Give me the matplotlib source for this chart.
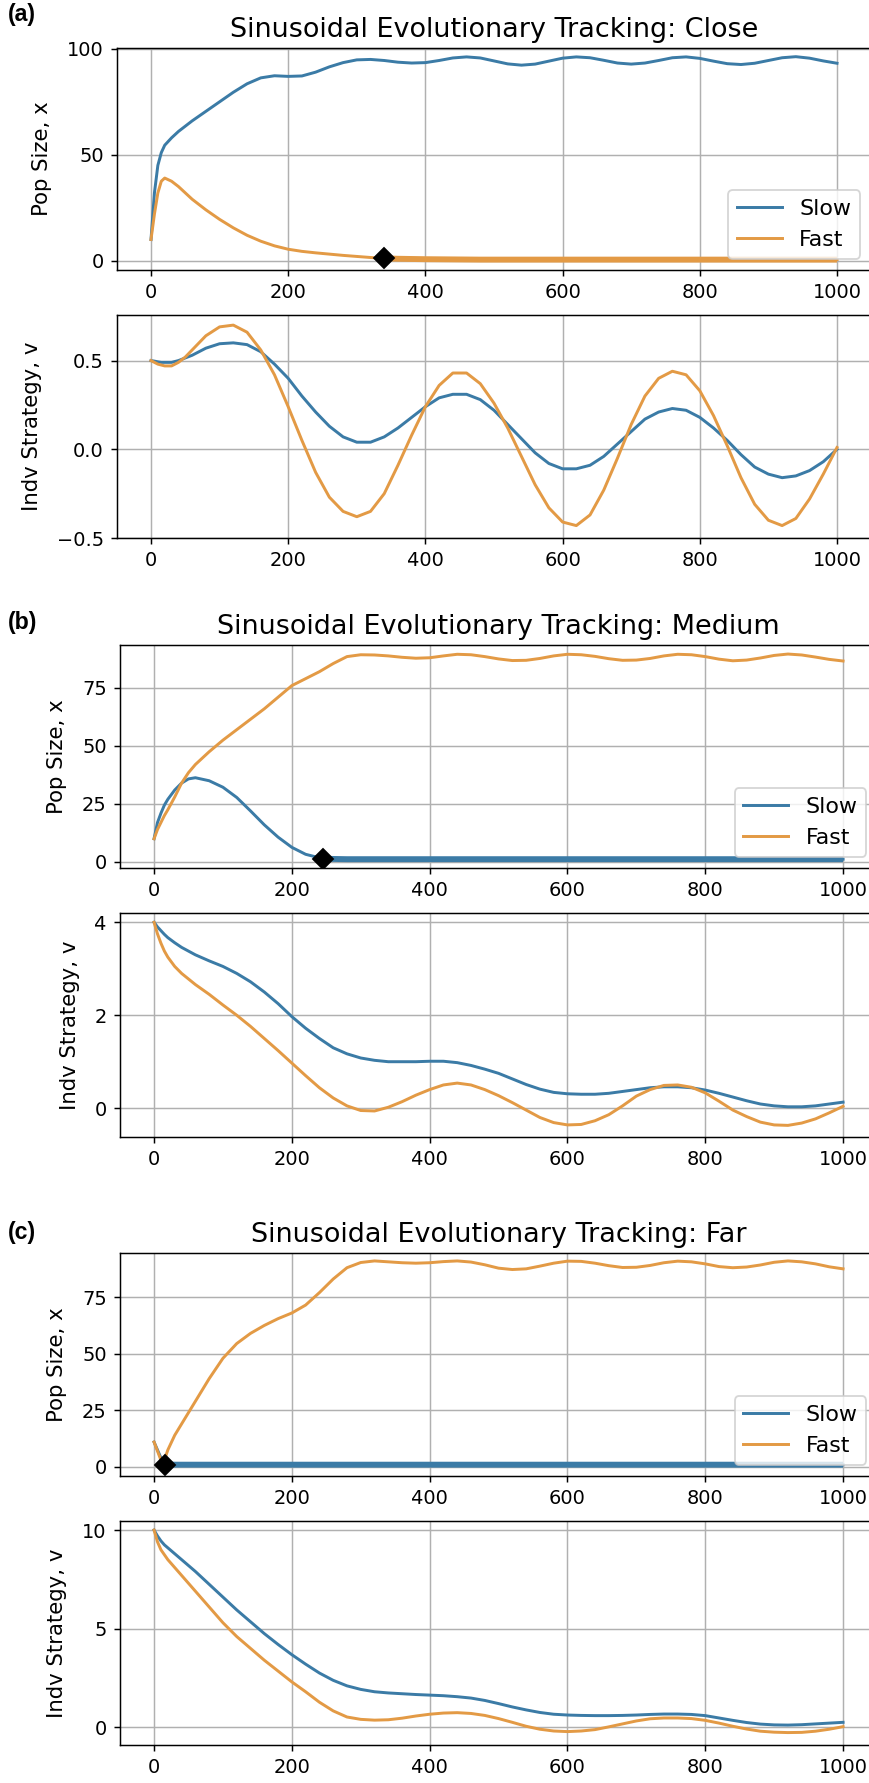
import matplotlib
matplotlib.use("Agg")
import matplotlib.pyplot as plt

# ---------------- data ----------------
t = [0, 5, 10, 15, 20, 30, 40, 50, 60, 80, 100, 120, 140, 160, 180, 200, 220, 240, 260, 280,
     300, 320, 340, 360, 380, 400, 420, 440, 460, 480, 500, 520, 540, 560, 580, 600, 620, 640,
     660, 680, 700, 720, 740, 760, 780, 800, 820, 840, 860, 880, 900, 920, 940, 960, 980, 1000]

# (a) Close
close_pop_slow = [10, 32, 45, 51, 54.5, 58, 61, 63.5, 66, 70.5, 75, 79.5, 83.5, 86.3, 87.3, 87, 87.2, 89,
                  91.5, 93.5, 94.8, 95, 94.5, 93.7, 93.3, 93.5, 94.5, 95.7, 96.2, 95.7, 94.3, 92.9, 92.3,
                  92.8, 94.2, 95.6, 96.2, 95.8, 94.6, 93.3, 92.8, 93.3, 94.5, 95.8, 96.2, 95.5, 94.2, 93,
                  92.6, 93.2, 94.5, 95.8, 96.3, 95.6, 94.3, 93.2]
close_pop_fast = [10, 22, 32, 37.5, 39, 37.5, 35, 32, 29, 24, 19.5, 15.5, 12, 9.2, 7, 5.4, 4.4, 3.7,
                  3.1, 2.5, 2.0, 1.5, 1.1, 0.9, 0.8, 0.7, 0.65, 0.6, 0.55, 0.5, 0.5, 0.5, 0.5, 0.5,
                  0.5, 0.5, 0.5, 0.5, 0.5, 0.5, 0.5, 0.5, 0.5, 0.5, 0.5, 0.5, 0.5, 0.5, 0.5, 0.5,
                  0.5, 0.5, 0.5, 0.5, 0.5, 0.5]
close_v_slow = [0.50, 0.497, 0.493, 0.49, 0.49, 0.49, 0.50, 0.515, 0.53, 0.57, 0.595, 0.60, 0.59, 0.55,
                0.48, 0.40, 0.30, 0.21, 0.13, 0.07, 0.04, 0.04, 0.07, 0.12, 0.18, 0.24, 0.29, 0.31,
                0.31, 0.28, 0.22, 0.14, 0.06, -0.02, -0.08, -0.11, -0.11, -0.09, -0.04, 0.03, 0.10,
                0.17, 0.21, 0.23, 0.22, 0.18, 0.12, 0.05, -0.03, -0.10, -0.14, -0.16, -0.15, -0.12,
                -0.07, 0.00]
close_v_fast = [0.50, 0.49, 0.48, 0.475, 0.47, 0.47, 0.49, 0.52, 0.56, 0.64, 0.69, 0.70, 0.66, 0.56,
                0.42, 0.24, 0.05, -0.13, -0.27, -0.35, -0.38, -0.35, -0.25, -0.09, 0.08, 0.24, 0.36,
                0.43, 0.43, 0.37, 0.26, 0.12, -0.04, -0.20, -0.33, -0.41, -0.43, -0.37, -0.23, -0.05,
                0.14, 0.30, 0.40, 0.44, 0.42, 0.33, 0.19, 0.02, -0.16, -0.31, -0.40, -0.43, -0.39,
                -0.28, -0.14, 0.01]

# (b) Medium
medium_pop_slow = [10, 17, 21, 24.5, 27, 31, 34, 35.8, 36.3, 35, 32.2, 27.8, 22, 16, 10.7, 6.3, 3.3,
                   1.8, 1.3, 1.2, 1.2, 1.2, 1.2, 1.2, 1.2, 1.2, 1.2, 1.2, 1.2, 1.2, 1.2, 1.2, 1.2,
                   1.2, 1.2, 1.2, 1.2, 1.2, 1.2, 1.2, 1.2, 1.2, 1.2, 1.2, 1.2, 1.2, 1.2, 1.2, 1.2,
                   1.2, 1.2, 1.2, 1.2, 1.2, 1.2, 1.2]
medium_pop_fast = [10, 14, 17, 20, 22.5, 28, 34, 38.5, 42, 47.5, 52.5, 57, 61.5, 66, 71, 76, 79, 82,
                   85.5, 88.5, 89.3, 89.2, 88.8, 88.2, 87.8, 88, 88.8, 89.5, 89.3, 88.5, 87.5, 86.8,
                   86.9, 87.7, 88.8, 89.5, 89.3, 88.6, 87.6, 86.9, 87, 87.7, 88.8, 89.5, 89.3, 88.5,
                   87.4, 86.7, 87, 87.9, 89, 89.6, 89.2, 88.3, 87.3, 86.6]
medium_v_slow = [4.0, 3.9, 3.82, 3.74, 3.67, 3.56, 3.46, 3.38, 3.3, 3.17, 3.05, 2.9, 2.72, 2.5, 2.25,
                 1.97, 1.72, 1.5, 1.3, 1.17, 1.08, 1.03, 1.0, 1.0, 1.0, 1.01, 1.01, 0.98, 0.92, 0.84,
                 0.75, 0.63, 0.51, 0.41, 0.34, 0.31, 0.3, 0.3, 0.32, 0.36, 0.4, 0.44, 0.46, 0.46,
                 0.44, 0.39, 0.32, 0.24, 0.16, 0.09, 0.05, 0.03, 0.03, 0.05, 0.09, 0.13]
medium_v_fast = [4.0, 3.75, 3.55, 3.38, 3.25, 3.05, 2.9, 2.78, 2.66, 2.45, 2.22, 2.0, 1.76, 1.5, 1.24,
                 0.97, 0.7, 0.44, 0.22, 0.05, -0.05, -0.06, 0.02, 0.14, 0.28, 0.4, 0.5, 0.54, 0.5,
                 0.4, 0.27, 0.12, -0.04, -0.2, -0.31, -0.36, -0.35, -0.27, -0.14, 0.05, 0.26, 0.4,
                 0.49, 0.5, 0.45, 0.33, 0.15, -0.04, -0.18, -0.3, -0.36, -0.37, -0.32, -0.23, -0.1,
                 0.04]

# (c) Far
far_pop_slow = [11, 7.5, 4, 1.6, 1.1, 1.0, 1.0, 1.0, 1.0, 1.0, 1.0, 1.0, 1.0, 1.0, 1.0, 1.0, 1.0,
                1.0, 1.0, 1.0, 1.0, 1.0, 1.0, 1.0, 1.0, 1.0, 1.0, 1.0, 1.0, 1.0, 1.0, 1.0, 1.0, 1.0,
                1.0, 1.0, 1.0, 1.0, 1.0, 1.0, 1.0, 1.0, 1.0, 1.0, 1.0, 1.0, 1.0, 1.0, 1.0, 1.0, 1.0,
                1.0, 1.0, 1.0, 1.0, 1.0]
far_pop_fast = [11, 7, 3, 3, 7.5, 14, 19, 24, 29, 39, 48, 54.5, 59, 62.5, 65.5, 68, 71.5, 77, 83, 88,
                90.3, 91, 90.6, 90.2, 90, 90.2, 90.7, 91, 90.5, 89.3, 87.8, 87.2, 87.5, 88.7, 90,
                90.9, 90.8, 90, 88.9, 88.1, 88.2, 89, 90.2, 90.9, 90.6, 89.7, 88.5, 88, 88.3, 89.2,
                90.4, 91, 90.6, 89.7, 88.4, 87.5]
far_v_slow = [10, 9.7, 9.45, 9.25, 9.1, 8.8, 8.5, 8.2, 7.9, 7.25, 6.6, 5.95, 5.35, 4.75, 4.2, 3.68,
              3.2, 2.75, 2.38, 2.1, 1.92, 1.8, 1.74, 1.7, 1.66, 1.63, 1.6, 1.55, 1.48, 1.36, 1.2,
              1.03, 0.88, 0.75, 0.66, 0.62, 0.6, 0.59, 0.59, 0.6, 0.62, 0.65, 0.67, 0.67, 0.65, 0.59,
              0.47, 0.35, 0.24, 0.16, 0.12, 0.11, 0.13, 0.17, 0.21, 0.25]
far_v_fast = [10, 9.4, 9.0, 8.75, 8.5, 8.1, 7.7, 7.3, 6.9, 6.1, 5.3, 4.6, 4.0, 3.4, 2.85, 2.3, 1.8,
              1.27, 0.83, 0.52, 0.4, 0.36, 0.38, 0.46, 0.57, 0.66, 0.72, 0.74, 0.7, 0.6, 0.44, 0.25,
              0.05, -0.1, -0.19, -0.22, -0.19, -0.12, 0.02, 0.17, 0.32, 0.43, 0.47, 0.47, 0.44,
              0.35, 0.21, 0.05, -0.09, -0.2, -0.25, -0.27, -0.26, -0.2, -0.1, 0.03]

# extinction markers (time, population)
close_ext = (340, 1.1)
medium_ext = (245, 1.4)
far_ext = (16, 0.9)

titles = ["Sinusoidal Evolutionary Tracking: Close",
          "Sinusoidal Evolutionary Tracking: Medium",
          "Sinusoidal Evolutionary Tracking: Far"]
panel_labels = ["(a)", "(b)", "(c)"]
series_labels = ["Slow", "Fast"]
x_ticks = [0, 200, 400, 600, 800, 1000]
pop_ticks = [[0, 50, 100], [0, 25, 50, 75], [0, 25, 50, 75]]
v_ticks = [[-0.5, 0.0, 0.5], [0, 2, 4], [0, 5, 10]]

# ---------------- style ----------------
DPI = 133
fig = plt.figure(figsize=(869 / DPI, 1783 / DPI), dpi=DPI)
C_SLOW = "#3b7ba6"
C_FAST = "#e39a45"
H = 1783.0
W = 869.0

def ax_rect(left_px, right_px, top_px, bottom_px):
    return [left_px / W, 1 - bottom_px / H, (right_px - left_px) / W, (bottom_px - top_px) / H]

panels = [
    dict(pop=(close_pop_slow, close_pop_fast), v=(close_v_slow, close_v_fast), ext=close_ext,
         ext_series=1, xl=(116.7, 871.3), pop_y=(48, 270), v_y=(315, 538),
         pop_lim=(-4.4, 100.4), v_lim=(-0.5, 0.757), lab_y=15),
    dict(pop=(medium_pop_slow, medium_pop_fast), v=(medium_v_slow, medium_v_fast), ext=medium_ext,
         ext_series=0, xl=(119.6, 877.5), pop_y=(645, 868), v_y=(913, 1137),
         pop_lim=(-2.6, 93.5), v_lim=(-0.62, 4.2), lab_y=623),
    dict(pop=(far_pop_slow, far_pop_fast), v=(far_v_slow, far_v_fast), ext=far_ext,
         ext_series=0, xl=(119.6, 877.5), pop_y=(1253, 1476), v_y=(1521, 1745),
         pop_lim=(-4.0, 94.5), v_lim=(-0.9, 10.46), lab_y=1232),
]

for i, p in enumerate(panels):
    ax1 = fig.add_axes(ax_rect(p["xl"][0], p["xl"][1], *p["pop_y"]))
    ax2 = fig.add_axes(ax_rect(p["xl"][0], p["xl"][1], *p["v_y"]))
    colors = [C_SLOW, C_FAST]
    for k in range(2):
        ax1.plot(t, p["pop"][k], color=colors[k], lw=1.6, label=series_labels[k])
        ax2.plot(t, p["v"][k], color=colors[k], lw=1.6)
    # thicker post-extinction segment
    k = p["ext_series"]
    te = p["ext"][0]
    tt = [x for x in t if x >= te]
    yy = [y for x, y in zip(t, p["pop"][k]) if x >= te]
    ax1.plot([te] + tt, [p["ext"][1]] + yy, color=colors[k], lw=3.2, solid_capstyle="butt")
    ax1.plot([p["ext"][0]], [p["ext"][1]], marker="D", color="black", markersize=8, ls="none")

    for ax in (ax1, ax2):
        ax.set_xlim(-50, 1050)
        ax.set_xticks(x_ticks)
        ax.grid(True, color="#b0b0b0", lw=0.8)
        ax.tick_params(labelsize=10.5)
    ax1.set_ylim(*p["pop_lim"])
    ax1.set_yticks(pop_ticks[i])
    ax2.set_ylim(*p["v_lim"])
    ax2.set_yticks(v_ticks[i])
    ax1.set_ylabel("Pop Size, x", fontsize=11.5, labelpad=8)
    ax2.set_ylabel("Indv Strategy, v", fontsize=11.5, labelpad=8)
    ax1.set_title(titles[i], fontsize=14.6)
    ax1.legend(loc="lower right", fontsize=12)
    fig.text(8 / W, 1 - p["lab_y"] / H, panel_labels[i], fontsize=12.5, fontweight="bold",
             family=["Liberation Sans", "DejaVu Sans"], ha="left", va="center")

fig.savefig("out.png", dpi=DPI)
